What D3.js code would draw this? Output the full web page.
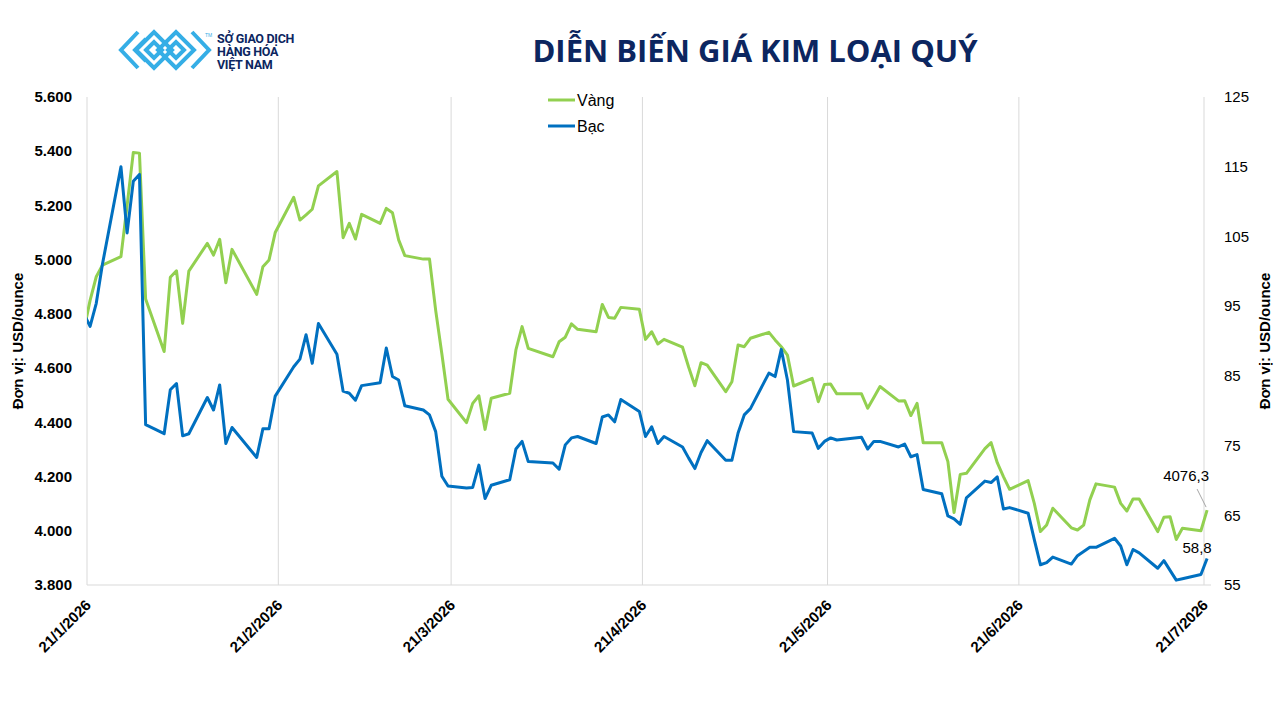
<!DOCTYPE html>
<html>
<head>
<meta charset="utf-8">
<script src="https://cdn.jsdelivr.net/npm/d3@7"></script>
<style>
  body { margin: 0; background: #fff; }
  svg { display: block; font-family: "Liberation Sans", Arial, sans-serif; }
</style>
</head>
<body>
<div id="chart"></div>
<script>
var W = 1280, H = 720;

// trading days (Jan 20 sits just left of the axis and is clipped)
var dates = [
  "2026-01-20","2026-01-21","2026-01-22","2026-01-23","2026-01-26","2026-01-27","2026-01-28","2026-01-29","2026-01-30",
  "2026-02-02","2026-02-03","2026-02-04","2026-02-05","2026-02-06","2026-02-09","2026-02-10","2026-02-11","2026-02-12","2026-02-13",
  "2026-02-17","2026-02-18","2026-02-19","2026-02-20","2026-02-23","2026-02-24","2026-02-25","2026-02-26","2026-02-27",
  "2026-03-02","2026-03-03","2026-03-04","2026-03-05","2026-03-06","2026-03-09","2026-03-10","2026-03-11","2026-03-12","2026-03-13",
  "2026-03-16","2026-03-17","2026-03-18","2026-03-19","2026-03-20","2026-03-23","2026-03-24","2026-03-25","2026-03-26","2026-03-27",
  "2026-03-30","2026-03-31","2026-04-01","2026-04-02","2026-04-06","2026-04-07","2026-04-08","2026-04-09","2026-04-10",
  "2026-04-13","2026-04-14","2026-04-15","2026-04-16","2026-04-17","2026-04-20","2026-04-21","2026-04-22","2026-04-23","2026-04-24",
  "2026-04-27","2026-04-28","2026-04-29","2026-04-30","2026-05-01","2026-05-04","2026-05-05","2026-05-06","2026-05-07","2026-05-08",
  "2026-05-11","2026-05-12","2026-05-13","2026-05-14","2026-05-15","2026-05-18","2026-05-19","2026-05-20","2026-05-21","2026-05-22",
  "2026-05-26","2026-05-27","2026-05-28","2026-05-29","2026-06-01","2026-06-02","2026-06-03","2026-06-04","2026-06-05",
  "2026-06-08","2026-06-09","2026-06-10","2026-06-11","2026-06-12","2026-06-15","2026-06-16","2026-06-17","2026-06-18","2026-06-19",
  "2026-06-22","2026-06-23","2026-06-24","2026-06-25","2026-06-26","2026-06-29","2026-06-30","2026-07-01","2026-07-02","2026-07-03",
  "2026-07-06","2026-07-07","2026-07-08","2026-07-09","2026-07-10","2026-07-13","2026-07-14","2026-07-15","2026-07-16","2026-07-17",
  "2026-07-20","2026-07-21"
];

// Vàng (gold), left axis
var goldPrice = [
  4740,4850,4937,4980,5011,5200,5395,5393,4855,
  4661,4935,4959,4765,4958,5060,5017,5075,4915,5038,
  4872,4974,4999,5100,5230,5146,5165,5186,5272,
  5325,5081,5134,5076,5167,5134,5189,5173,5073,5015,
  5002,5002,4813,4653,4485,4399,4470,4498,4374,4489,
  4507,4667,4753,4673,4642,4697,4714,4763,4743,
  4734,4835,4787,4784,4824,4817,4706,4734,4689,4706,
  4677,4603,4535,4620,4611,4513,4550,4685,4679,4710,
  4732,4704,4679,4648,4534,4562,4476,4540,4541,4505,
  4505,4452,4492,4532,4479,4480,4425,4470,4325,
  4325,4255,4067,4208,4212,4303,4325,4251,4200,4153,
  4185,4101,3997,4021,4083,4011,4003,4021,4114,4173,
  4161,4101,4073,4117,4117,3997,4050,4052,3968,4009,
  4000,4076.3
];

// Bạc (silver), right axis
var silverPrice = [
  93.9,92.1,95.4,101.0,115.0,105.5,112.9,113.9,78.0,
  76.7,83.0,83.9,76.4,76.7,81.9,80.1,83.7,75.3,77.6,
  73.3,77.4,77.4,82.1,86.3,87.4,90.9,86.8,92.5,
  88.1,82.8,82.5,81.5,83.6,84.0,89.0,84.9,84.4,80.7,
  80.1,79.4,77.0,70.6,69.2,68.9,69.0,72.2,67.4,69.3,
  70.1,74.5,75.6,72.7,72.5,71.6,75.1,76.1,76.3,
  75.3,79.1,79.4,78.4,81.6,79.9,76.3,77.7,75.3,76.3,
  74.8,73.2,71.7,74.0,75.7,72.9,72.9,76.8,79.4,80.3,
  85.4,84.9,88.8,84.4,77.0,76.8,74.6,75.6,76.1,75.8,
  76.2,74.5,75.6,75.6,74.8,75.2,73.4,73.7,68.7,
  68.1,64.9,64.5,63.7,67.5,69.9,69.7,70.5,65.9,66.1,
  65.3,61.5,57.9,58.2,59.0,58.0,59.2,59.8,60.4,60.4,
  61.7,60.6,57.9,60.1,59.6,57.4,58.5,57.1,55.7,55.9,
  56.5,58.8
];

var leftTicks = [3800,4000,4200,4400,4600,4800,5000,5200,5400,5600];
var rightTicks = [55,65,75,85,95,105,115,125];
var monthTicks = ["2026-01-21","2026-02-21","2026-03-21","2026-04-21","2026-05-21","2026-06-21","2026-07-21"];

var goldColor = "#92d050", silverColor = "#0070c0";
var navy = "#0c2660";

var parse = d3.timeParse("%Y-%m-%d");
var vn = d3.formatLocale({decimal: ",", thousands: ".", grouping: [3], currency: ["", ""]});
var fmtLeft = vn.format(",");
var fmtVal = vn.format(".1f");

var plotL = 87, plotR = 1204, plotT = 97, plotB = 585;

var x = d3.scaleTime()
    .domain([parse(monthTicks[0]), parse(monthTicks[monthTicks.length - 1])])
    .range([plotL, plotR]);
var yL = d3.scaleLinear().domain([3800, 5600]).range([plotB, plotT]);
var yR = d3.scaleLinear().domain([55, 125]).range([plotB, plotT]);

// points sit in the middle of their day
var px = function(d) { return x(d3.timeHour.offset(parse(d), 12)); };

var svg = d3.select("#chart").append("svg")
    .attr("width", W).attr("height", H);

svg.append("defs").append("clipPath").attr("id", "plot")
  .append("rect").attr("x", plotL).attr("y", plotT - 10)
  .attr("width", plotR - plotL + 12).attr("height", plotB - plotT + 14);

// ---- logo
var logo = svg.append("g").attr("fill", "none").attr("stroke", "#35aee6")
    .attr("stroke-width", 4).attr("stroke-linejoin", "miter");
function diamond(cx, cy, r) {
  return "M" + (cx - r) + "," + cy + "L" + cx + "," + (cy - r) + "L" + (cx + r) + "," + cy + "L" + cx + "," + (cy + r) + "Z";
}
logo.append("path").attr("d", "M138,32L121,50L138,68");
logo.append("path").attr("d", "M146,39L135,50L146,61");
[[154, 50, 18], [176, 50, 18], [154, 50, 8], [176, 50, 8]].forEach(function(p) {
  logo.append("path").attr("d", diamond(p[0], p[1], p[2]));
});
logo.append("path").attr("d", "M192,32L209,50L192,68");
svg.append("text").attr("x", 205).attr("y", 37).attr("font-size", 5)
  .attr("fill", "#35aee6").text("TM");
["SỞ GIAO DỊCH", "HÀNG HÓA", "VIỆT NAM"].forEach(function(t, i) {
  svg.append("text").attr("x", 217).attr("y", 43 + i * 12.8)
    .attr("font-family", "Roboto").attr("font-weight", "bold")
    .attr("font-size", 12.5).attr("letter-spacing", -0.3)
    .attr("fill", navy).text(t);
});

// ---- title
svg.append("text").attr("x", 755).attr("y", 62)
  .attr("text-anchor", "middle")
  .attr("font-family", "Open Sans").attr("font-weight", "bold")
  .attr("font-size", 31).attr("fill", navy)
  .text("DIỄN BIẾN GIÁ KIM LOẠI QUÝ");

// ---- grid and axes lines
svg.selectAll(".grid").data(monthTicks).enter().append("line")
  .attr("x1", function(d) { return x(parse(d)); })
  .attr("x2", function(d) { return x(parse(d)); })
  .attr("y1", plotT).attr("y2", plotB)
  .attr("stroke", "#d9d9d9").attr("stroke-width", 1);
svg.append("line").attr("x1", plotL).attr("x2", 1211)
  .attr("y1", plotB).attr("y2", plotB)
  .attr("stroke", "#d9d9d9").attr("stroke-width", 1.2);

// left ticks
svg.selectAll(".lt").data(leftTicks).enter().append("text")
  .attr("x", 72).attr("y", function(d) { return yL(d); })
  .attr("dy", "0.35em").attr("text-anchor", "end")
  .attr("font-size", 15).attr("font-weight", "bold")
  .text(function(d) { return fmtLeft(d); });

// right ticks
svg.selectAll(".rt").data(rightTicks).enter().append("text")
  .attr("x", 1224).attr("y", function(d) { return yR(d); })
  .attr("dy", "0.35em").attr("font-size", 15)
  .text(function(d) { return d; });

// x labels
svg.selectAll(".xt").data(monthTicks).enter().append("text")
  .attr("transform", function(d) { return "translate(" + (x(parse(d)) + 5) + ",606) rotate(-45)"; })
  .attr("text-anchor", "end").attr("font-size", 15).attr("font-weight", "bold")
  .text(function(d) { return d3.timeFormat("%-d/%-m/%Y")(parse(d)); });

// axis titles
svg.append("text").attr("transform", "translate(18,341) rotate(-90)")
  .attr("text-anchor", "middle").attr("dy", "0.35em")
  .attr("font-size", 15).attr("font-weight", "bold").text("Đơn vị: USD/ounce");
svg.append("text").attr("transform", "translate(1265,341) rotate(-90)")
  .attr("text-anchor", "middle").attr("dy", "0.35em")
  .attr("font-size", 15).attr("font-weight", "bold").text("Đơn vị: USD/ounce");

// ---- lines
var plot = svg.append("g").attr("clip-path", "url(#plot)");
var goldLine = d3.line().x(function(d, i) { return px(dates[i]); }).y(function(d) { return yL(d); });
var silverLine = d3.line().x(function(d, i) { return px(dates[i]); }).y(function(d) { return yR(d); });

plot.append("path").datum(goldPrice).attr("d", goldLine)
  .attr("fill", "none").attr("stroke", goldColor).attr("stroke-width", 3)
  .attr("stroke-linejoin", "round");
plot.append("path").datum(silverPrice).attr("d", silverLine)
  .attr("fill", "none").attr("stroke", silverColor).attr("stroke-width", 3)
  .attr("stroke-linejoin", "round");

// ---- end labels
var n = dates.length - 1;
var gx = px(dates[n]), gy = yL(goldPrice[n]);
svg.append("line").attr("x1", gx - 10).attr("y1", gy - 21).attr("x2", gx - 1).attr("y2", gy - 3)
  .attr("stroke", "#a6a6a6").attr("stroke-width", 1);
svg.append("text").attr("x", gx - 21).attr("y", gy - 29)
  .attr("text-anchor", "middle").attr("font-size", 15).text(fmtVal(goldPrice[n]));
var sx = px(dates[n]), sy = yR(silverPrice[n]);
svg.append("text").attr("x", sx - 10).attr("y", sy - 6)
  .attr("text-anchor", "middle").attr("font-size", 15).text(fmtVal(silverPrice[n]));

// ---- legend
var legend = [["Vàng", goldColor], ["Bạc", silverColor]];
legend.forEach(function(l, i) {
  var ly = 100 + i * 26;
  svg.append("line").attr("x1", 548).attr("x2", 575).attr("y1", ly).attr("y2", ly)
    .attr("stroke", l[1]).attr("stroke-width", 3);
  svg.append("text").attr("x", 577).attr("y", ly).attr("dy", "0.35em")
    .attr("font-size", 16).text(l[0]);
});
</script>
</body>
</html>
